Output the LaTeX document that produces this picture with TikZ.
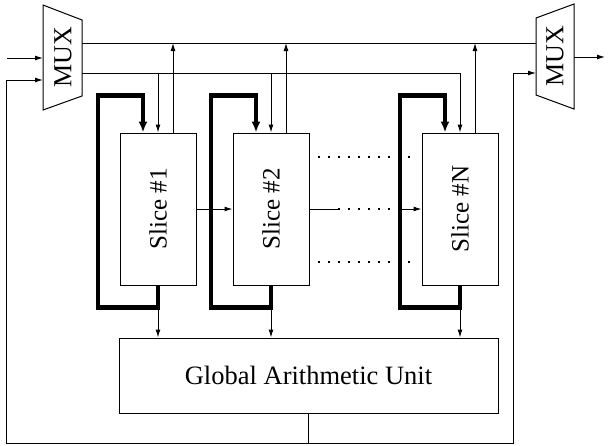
\documentclass[tikz,border=0pt]{standalone}
\usepackage{fontspec}
\setmainfont{Liberation Serif}
\usepackage{graphicx}
\usetikzlibrary{arrows.meta,calc}
\tikzset{
  thinln/.style={line width=1pt},
  arr/.style={thinln,-{Latex[length=8pt,width=5pt]}},
  thickarr/.style={line width=4.5pt,line join=miter,-{Latex[length=11pt,width=9pt]}},
  slicebox/.style={draw,thinln,minimum width=76pt,minimum height=152pt,inner sep=0pt,font=\fontsize{25}{30}\selectfont},
  gaubox/.style={draw,thinln,minimum width=379pt,minimum height=75pt,inner sep=0pt,font=\fontsize{26.5}{30}\selectfont},
  muxlabel/.style={rotate=90,inner sep=0pt,font=\fontsize{26}{30}\selectfont},
  dotln/.style={line width=1.5pt,dash pattern=on 1.5pt off 8.5pt}
}
\begin{document}
\begin{tikzpicture}[x=1pt,y=-1pt]
\useasboundingbox (0,0) rectangle (609,445);
% MUXes
\draw[thinln] (43,5) -- (82,20) -- (82,96) -- (43,110) -- cycle;
\node[muxlabel] (muxL) at (63,57) {MUX};
\draw[thinln] (536,18) -- (574,4) -- (574,109) -- (536,95) -- cycle;
\node[muxlabel] (muxR) at (555,56) {MUX};
\coordinate (muxLi1) at (43,58);
\coordinate (muxLi2) at (43,80);
\coordinate (muxLo1) at (82,43);
\coordinate (muxLo2) at (82,73);
\coordinate (muxRi1) at (536,43);
\coordinate (muxRi2) at (536,73);
\coordinate (muxRo) at (574,57);
\coordinate (in1) at (7,58);
\coordinate (out) at (605,57);
% slices
\node[slicebox] (s1) at (158,209) {\rotatebox{90}{Slice \#1}};
\node[slicebox] (s2) at (271,209) {\rotatebox{90}{Slice \#2}};
\node[slicebox] (sN) at (460,209) {\rotatebox{90}{Slice \#N}};
\node[gaubox] (gau) at (308.5,375.5) {Global Arithmetic Unit};
% inputs / outputs
\draw[arr] (in1) -- (muxLi1);
\draw[arr] (muxRo) -- (out);
\draw[thinln] (muxLo1) -- (muxRi1);
\draw[arr] (muxLo2) -| (sN.north);
\foreach \s in {s1,s2}{
  \draw[arr] (\s.north |- muxLo2) -- (\s.north);
}
\foreach \s in {s1,s2,sN}{
  \coordinate (\s up) at ($(\s.north)+(15,0)$);
  \draw[arr] (\s up) -- (\s up |- muxLo1);
  \draw[thickarr] (\s.south) -- ($(\s.south)+(0,22)$) -| ($(\s.north)+(-60,-37)$) -| ($(\s.north)+(-15,0)$);
  \draw[arr] ($(\s.south)+(0,22)$) -- (\s.south |- gau.north);
}
% slice chain
\draw[arr] (s1.east) -- (s2.west);
\coordinate (c1) at (338,209);
\coordinate (c2) at (400,209);
\draw[thinln] (s2.east) -- (c1);
\draw[dotln] (c1) -- (c2);
\draw[arr] (c2) -- (sN.west);
\coordinate (d1a) at (318,157);
\coordinate (d1b) at (412,157);
\coordinate (d2a) at (318,262);
\coordinate (d2b) at (412,262);
\draw[dotln] (d1a) -- (d1b);
\draw[dotln] (d2a) -- (d2b);
% feedback
\coordinate (gb) at (308.5,443);
\coordinate (lfb) at (6,80);
\coordinate (rfb) at (513,73);
\draw[thinln] (gau.south) -- (gb);
\draw[arr] (gb) -| (lfb) -- (muxLi2);
\draw[arr] (gb) -| (rfb) -- (muxRi2);
\end{tikzpicture}
\end{document}
